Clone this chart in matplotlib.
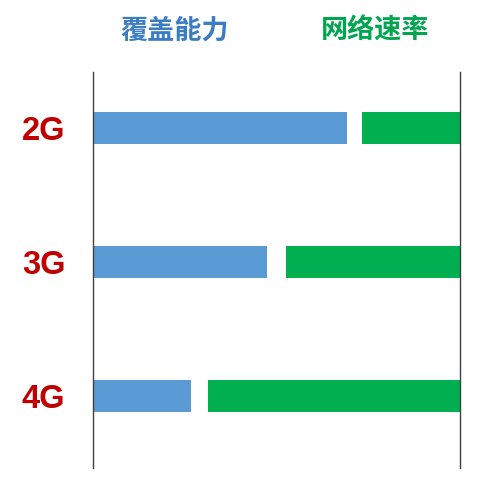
import matplotlib
matplotlib.use("Agg")
import matplotlib.pyplot as plt

categories = ["2G", "3G", "4G"]
coverage = [69.2, 47.4, 26.7]   # 覆盖能力 (left, blue)
speed = [26.7, 47.4, 68.7]      # 网络速率 (right, green)
total = 100

W, H = 498, 487
fig = plt.figure(figsize=(W / 100, H / 100), dpi=100)
ax = fig.add_axes([93 / W, (487 - 468) / H, 367 / W, 396 / H])

ys = list(range(len(categories)))
ax.barh(ys, coverage, height=0.24, left=0, color="#5B9BD5")
ax.barh(ys, speed, height=0.24, left=[total - s for s in speed], color="#00B050")

ax.set_xlim(0, total)
ax.set_ylim(2.534, -0.418)
ax.set_xticks([])
ax.set_yticks(ys)
ax.set_yticklabels(categories, fontsize=23.5, fontweight="bold", color="#C00000",
                   family=["Liberation Sans", "DejaVu Sans"])
ax.tick_params(axis="y", length=0, pad=20)
for s in ["top", "bottom"]:
    ax.spines[s].set_visible(False)
for s in ["left", "right"]:
    ax.spines[s].set_color("#404040")
    ax.spines[s].set_linewidth(1)

fig.text(175 / W, 1 - 31 / H, "覆盖能力", ha="center", va="center", fontsize=19.5,
         fontweight="bold", color="#3B7DC4", family=["Noto Sans CJK SC", "DejaVu Sans"])
fig.text(375 / W, 1 - 31 / H, "网络速率", ha="center", va="center", fontsize=19.5,
         fontweight="bold", color="#00A550", family=["Noto Sans CJK SC", "DejaVu Sans"])

fig.savefig("out.png", dpi=100)
